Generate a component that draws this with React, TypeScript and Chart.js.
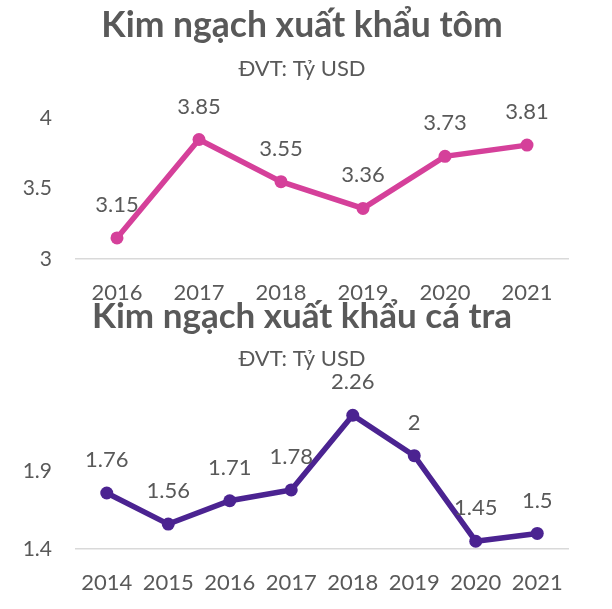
import React, { useEffect, useRef } from "react";
import { Chart, registerables } from "chart.js";

Chart.register(...registerables);

const shrimpTitle = "Kim ngạch xuất khẩu tôm";
const pangasiusTitle = "Kim ngạch xuất khẩu cá tra";
const unitLabel = "ĐVT: Tỷ USD";

const shrimpYears = ["2016", "2017", "2018", "2019", "2020", "2021"];
const shrimpValues = [3.15, 3.85, 3.55, 3.36, 3.73, 3.81];
const shrimpTicks = [3, 3.5, 4];

const pangasiusYears = ["2014", "2015", "2016", "2017", "2018", "2019", "2020", "2021"];
const pangasiusValues = [1.76, 1.56, 1.71, 1.78, 2.26, 2, 1.45, 1.5];
const pangasiusTicks = [1.4, 1.9];

const TEXT = "#595959";
const FONT = "Lato";

const valueLabels = {
  id: "valueLabels",
  afterDatasetsDraw(chart: any) {
    const ctx = chart.ctx;
    ctx.save();
    ctx.font = `22px ${FONT}`;
    ctx.fillStyle = TEXT;
    ctx.textAlign = "center";
    ctx.textBaseline = "middle";
    chart.data.datasets.forEach((ds: any, i: number) => {
      chart.getDatasetMeta(i).data.forEach((pt: any, j: number) => {
        ctx.fillText(String(ds.data[j]), pt.x, pt.y - 33);
      });
    });
    ctx.restore();
  },
};

function makeConfig(p: {
  title: string;
  titleSize: number;
  labels: string[];
  values: number[];
  ticks: number[];
  min: number;
  max: number;
  color: string;
  titlePad: { top: number; bottom: number };
  subPad: { top: number; bottom: number };
  xHeight: number;
}): any {
  return {
    type: "line",
    data: {
      labels: p.labels,
      datasets: [
        {
          data: p.values,
          borderColor: p.color,
          backgroundColor: p.color,
          borderWidth: 5.5,
          pointRadius: 6.5,
          pointBorderWidth: 0,
          pointBackgroundColor: p.color,
          tension: 0,
          clip: false,
          yAxisID: "y",
        },
      ],
    },
    options: {
      responsive: false,
      animation: false,
      layout: { padding: { top: 0, left: 20, right: 28, bottom: 0 } },
      plugins: {
        legend: { display: false },
        tooltip: { enabled: false },
        title: {
          display: true,
          text: p.title,
          color: TEXT,
          font: { family: FONT, size: p.titleSize, weight: "bold", lineHeight: 1.2 },
          padding: p.titlePad,
        },
        subtitle: {
          display: true,
          text: unitLabel,
          color: TEXT,
          font: { family: FONT, size: 22, lineHeight: 1.2 },
          padding: p.subPad,
        },
      },
      scales: {
        x: {
          offset: true,
          afterFit: (axis: any) => {
            axis.height = p.xHeight;
          },
          grid: { display: false, drawTicks: false, offset: true },
          border: { display: true, color: "#d9d9d9", width: 1.5 },
          ticks: { padding: 21, color: TEXT, font: { family: FONT, size: 22 } },
        },
        y: {
          position: "left",
          min: p.min,
          max: p.max,
          afterBuildTicks: (axis: any) => {
            axis.ticks = p.ticks.map((v) => ({ value: v }));
          },
          afterFit: (axis: any) => {
            axis.width = 56;
          },
          grid: { display: false, drawTicks: false },
          border: { display: false },
          ticks: {
            padding: 24,
            color: TEXT,
            font: { family: FONT, size: 21 },
            callback: (v: any) => String(v),
          },
        },
        yRight: {
          type: "linear",
          axis: "y",
          position: "right",
          afterFit: (axis: any) => {
            axis.width = 16;
          },
          grid: { display: false, drawTicks: false },
          border: { display: false },
          ticks: { display: false },
        },
      },
    },
    plugins: [valueLabels],
  };
}

export default function App() {
  const topRef = useRef<HTMLCanvasElement>(null);
  const bottomRef = useRef<HTMLCanvasElement>(null);

  useEffect(() => {
    const top = new Chart(
      topRef.current as HTMLCanvasElement,
      makeConfig({
        title: shrimpTitle,
        titleSize: 35.5,
        labels: shrimpYears,
        values: shrimpValues,
        ticks: shrimpTicks,
        min: 3,
        max: 4,
        color: "#D5409A",
        titlePad: { top: 4, bottom: 0 },
        subPad: { top: 9, bottom: 36.4 },
        xHeight: 51,
      })
    );
    const bottom = new Chart(
      bottomRef.current as HTMLCanvasElement,
      makeConfig({
        title: pangasiusTitle,
        titleSize: 35,
        labels: pangasiusYears,
        values: pangasiusValues,
        ticks: pangasiusTicks,
        min: 1.4,
        max: 2.3,
        color: "#4B2391",
        titlePad: { top: 0, bottom: 0 },
        subPad: { top: 7.6, bottom: 37 },
        xHeight: 60,
      })
    );
    return () => {
      top.destroy();
      bottom.destroy();
    };
  }, []);

  return (
    <div
      style={{
        position: "fixed",
        left: 0,
        top: 0,
        width: 612,
        height: 609,
        background: "#ffffff",
        overflow: "hidden",
      }}
    >
      <canvas
        ref={topRef}
        width={612}
        height={310}
        style={{ position: "absolute", left: 0, top: 0, width: 612, height: 310 }}
      />
      <canvas
        ref={bottomRef}
        width={612}
        height={313}
        style={{ position: "absolute", left: 0, top: 296, width: 612, height: 313 }}
      />
    </div>
  );
}
